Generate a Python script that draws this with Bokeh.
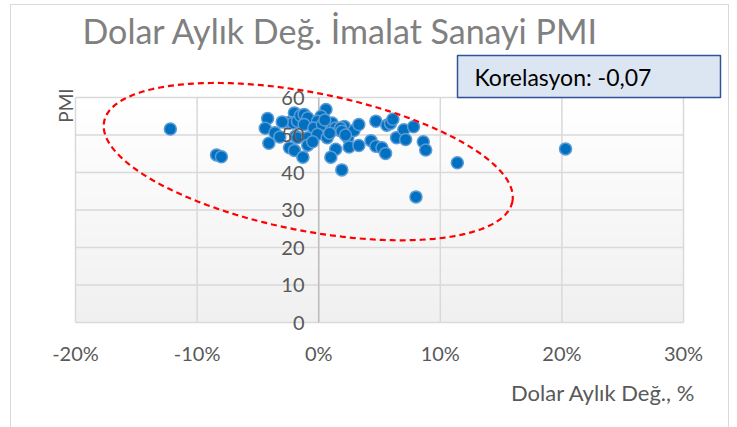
import numpy as np
from bokeh.plotting import figure
from bokeh.models import (FixedTicker, NumeralTickFormatter, Label, BoxAnnotation,
                          PolyAnnotation, Range1d)
from bokeh.embed import file_html
from bokeh.resources import INLINE

# ---------------- data ----------------
dolar_pct = [-12.2, -8.4, -8.0, 11.4, 20.3, 8.0, 1.9,
             -4.2, -4.4, -4.1, -3.6, -3.2,
             -2.0, -2.4, -2.1, -1.75, -1.5, -1.2, -0.9, -1.2,
             -1.9, -1.75, -0.9, -0.9, -2.4, -2.0, -1.3,
             0.6, 0.2, -0.1, -0.4, 0.3, -0.1, 0.7, 1.0, 1.1,
             1.4, 1.7, 2.1, 2.4, 2.9, 3.3, 1.8, 1.9,
             1.4, 1.0, 2.5, 3.3, 4.3, 4.7, 5.2, 5.5,
             4.7, 5.6, 5.9, 6.1, 6.4, 7.0, 7.15, 7.8, 8.6, 8.8,
             0.5, 0.9, 2.2, -3.0, -0.5]
pmi = [51.6, 44.7, 44.2, 42.6, 46.3, 33.5, 40.7,
       54.4, 51.8, 47.8, 50.6, 49.5,
       55.9, 53.4, 53.2, 53.7, 55.2, 55.5, 54.6, 52.8,
       49.7, 49.3, 49.3, 47.3, 46.6, 45.9, 44.1,
       56.8, 55.0, 53.7, 51.9, 52.8, 50.2, 49.3, 52.8, 53.2,
       51.9, 51.3, 52.3, 49.3, 51.2, 52.8, 51.9, 51.0,
       46.2, 44.1, 46.8, 47.2, 48.5, 47.0, 46.6, 45.1,
       53.7, 52.6, 53.1, 54.2, 49.3, 51.4, 48.8, 52.2, 48.2, 46.0,
       54.0, 50.5, 50.0, 53.5, 48.2]
x_ticks = [-0.2, -0.1, 0.0, 0.1, 0.2, 0.3]
y_ticks = [0, 10, 20, 30, 40, 50, 60]
title_text = "Dolar Aylık Değ. İmalat Sanayi PMI"
corr_text = "Korelasyon: -0,07"
x_title = "Dolar Aylık Değ., %"
y_title = "PMI"

x_vals = [v / 100 for v in dolar_pct]

# ---------------- layout constants (page pixels) ----------------
X_MIN, X_MAX = -0.2, 0.3
Y_MIN, Y_MAX = 0, 60
CANVAS_L, CANVAS_T, CANVAS_R, CANVAS_B = 11, 5, 728, 427
PLOT_L, PLOT_R, PLOT_T, PLOT_B = 75, 683, 97, 322        # data plot area
FRAME_L, FRAME_R, FRAME_T, FRAME_B = 16, 723, 10, 420    # bokeh frame
FONT = "Lato"
GRAY = "#595959"
GRID = "#d9d9d9"

sx = (PLOT_R - PLOT_L) / (X_MAX - X_MIN)
sy = (PLOT_B - PLOT_T) / (Y_MAX - Y_MIN)


def dx_(px):
    return X_MIN + (px - PLOT_L) / sx


def dy_(py):
    return Y_MIN + (PLOT_B - py) / sy


p = figure(output_backend="svg", toolbar_location=None,
           frame_width=FRAME_R - FRAME_L, frame_height=FRAME_B - FRAME_T,
           min_border_left=FRAME_L - CANVAS_L, min_border_right=CANVAS_R - FRAME_R,
           min_border_top=FRAME_T - CANVAS_T, min_border_bottom=CANVAS_B - FRAME_B,
           x_range=Range1d(dx_(FRAME_L), dx_(FRAME_R)),
           y_range=Range1d(dy_(FRAME_B), dy_(FRAME_T)),
           background_fill_color="white", border_fill_color="white")
p.outline_line_color = None
p.styles = {"margin-left": f"{CANVAS_L - 1}px", "margin-top": f"{CANVAS_T - 1}px",
            "border-top": "1px solid #d9d9d9", "border-left": "1px solid #d9d9d9",
            "border-right": "1px solid #d9d9d9"}

# gradient background of the plot area
n = 64
img = np.zeros((n, 1), dtype=np.uint32)
view = img.view(dtype=np.uint8).reshape((n, 1, 4))
for i in range(n):
    c = int(round(240 + 15 * i / (n - 1)))
    view[i, 0, :] = [c, c, c, 255]
p.image_rgba(image=[img], x=X_MIN, y=Y_MIN, dw=X_MAX - X_MIN, dh=Y_MAX - Y_MIN, level="image")

# axes (labels placed next to the data area)
p.xaxis.ticker = FixedTicker(ticks=x_ticks)
p.xaxis.formatter = NumeralTickFormatter(format="0%")
p.yaxis.ticker = FixedTicker(ticks=y_ticks)
for ax in (p.xaxis, p.yaxis):
    ax.major_tick_line_color = None
    ax.minor_tick_line_color = None
    ax.axis_line_color = None
    ax.major_label_text_font = FONT
    ax.major_label_text_color = GRAY
    ax.major_label_text_font_size = "20px"
p.xaxis.major_label_standoff = (PLOT_B + 12) - FRAME_B
p.yaxis.major_label_standoff = FRAME_L - (PLOT_L + int(round((0 - X_MIN) * sx)) - 8)

# grid lines limited to the data area
p.grid.visible = False
p.segment(x0=x_ticks, y0=[Y_MIN] * len(x_ticks), x1=x_ticks, y1=[Y_MAX] * len(x_ticks),
          line_color=GRID, line_width=1.5, level="underlay")
p.segment(x0=[X_MIN] * len(y_ticks), y0=y_ticks, x1=[X_MAX] * len(y_ticks), y1=y_ticks,
          line_color=GRID, line_width=1.5, level="underlay")
p.segment(x0=[0.0], y0=[Y_MIN], x1=[0.0], y1=[Y_MAX],
          line_color="#bfbfbf", line_width=1.5, level="underlay")

# points
p.scatter(x_vals, pmi, size=12, fill_color="#0070c0", line_color="#5b9bd5", line_width=1.5)

# dashed ellipse (pixel-sized, rotated)
E_CX, E_CY = -0.0086, 42.9
E_A, E_B, E_ANG = 208, 69, np.radians(11.1)
t = np.linspace(0, 2 * np.pi, 240)
ex = E_A * np.cos(t) * np.cos(E_ANG) - E_B * np.sin(t) * np.sin(E_ANG)
ey = E_A * np.cos(t) * np.sin(E_ANG) + E_B * np.sin(t) * np.cos(E_ANG)
p.add_layout(PolyAnnotation(xs=list(E_CX + ex / sx), ys=list(E_CY - ey / sy),
                            fill_alpha=0, line_color="red", line_alpha=1,
                            line_dash="6 4", line_width=2.2))

# correlation box
p.add_layout(BoxAnnotation(left=dx_(457), right=dx_(720), top=dy_(55), bottom=dy_(97),
                           fill_color="#dce6f2", fill_alpha=1,
                           line_color="#2f5597", line_width=1.5, line_alpha=1))
p.add_layout(Label(x=dx_(474), y=dy_(76), text=corr_text,
                   text_font=FONT, text_font_size="23px",
                   text_color="black", text_baseline="middle"))

# title and axis titles
p.add_layout(Label(x=dx_(82), y=dy_(30), text=title_text,
                   text_font=FONT, text_font_size="34px",
                   text_color="#808080", text_baseline="middle"))
p.add_layout(Label(x=dx_(65), y=dy_(105), text=y_title,
                   text_font=FONT, text_font_size="19px",
                   text_color=GRAY, text_baseline="middle", text_align="center",
                   angle=np.pi / 2))
p.add_layout(Label(x=dx_(695), y=dy_(392), text=x_title,
                   text_font=FONT, text_font_size="22px",
                   text_color=GRAY, text_baseline="middle", text_align="right"))

open("out.html", "w").write(file_html(p, INLINE))
